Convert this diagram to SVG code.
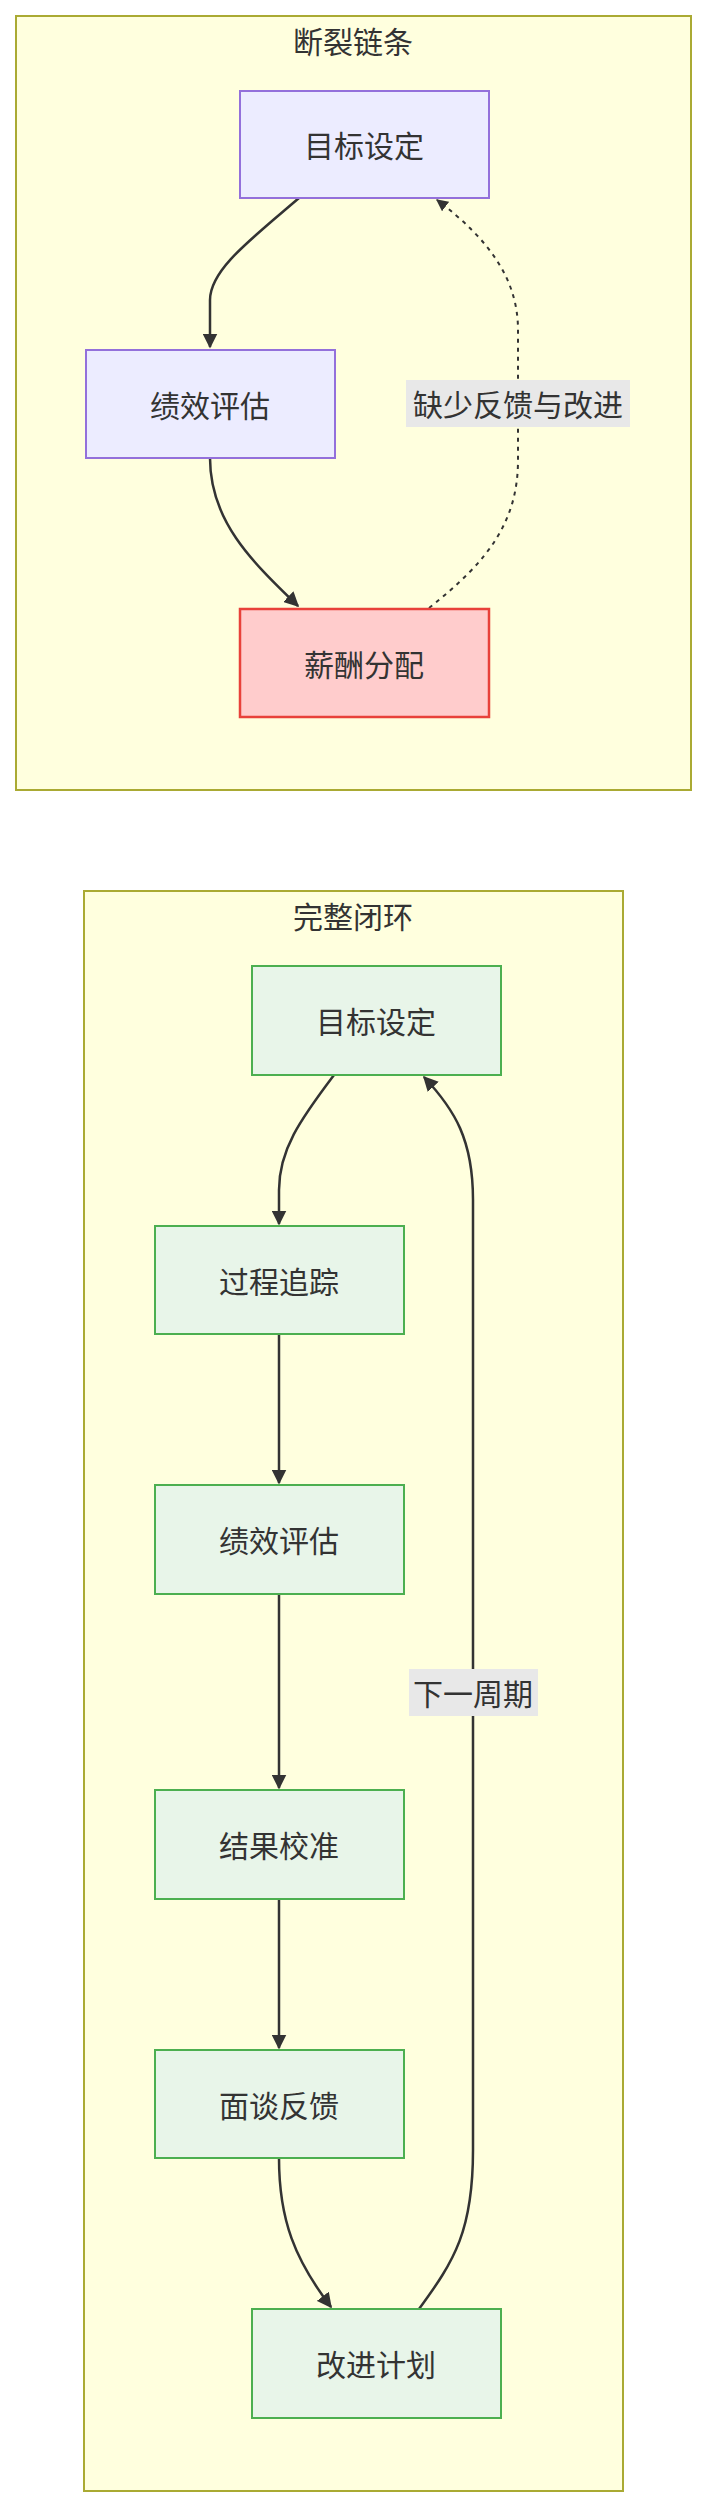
<svg xmlns="http://www.w3.org/2000/svg" width="705" height="2502" viewBox="0 0 705 2502">
<style>
text{font-family:"Noto Sans CJK SC","Liberation Sans",sans-serif;fill:#333;font-size:30px;text-anchor:middle;dominant-baseline:central}
.cl{fill:#ffffde;stroke:#aaaa33;stroke-width:2}
.p{fill:#ececff;stroke:#9370db;stroke-width:2}
.r{fill:#ffcccc;stroke:#e8413a;stroke-width:2.5}
.g{fill:#e8f5e9;stroke:#4caf50;stroke-width:2}
.e{fill:none;stroke:#333;stroke-width:2.5}
.d{stroke-dasharray:4 5;stroke-width:2}
.lb{fill:#e8e8e8}
</style>
<defs><marker id="a" viewBox="0 0 10 10" refX="9" refY="5" markerWidth="6" markerHeight="6" orient="auto"><path d="M0,0L10,5L0,10z" fill="#333"/></marker></defs>
<g id="cluster1"><rect class="cl" x="16" y="16" width="675" height="774"/><text x="353" y="40">断裂链条</text></g>
<g id="cluster2"><rect class="cl" x="84" y="891" width="539" height="1600"/><text x="353" y="915">完整闭环</text></g>
<g id="connectors">
<path class="e" d="M299,198C250,240 210,270 210,300L210,347" marker-end="url(#a)"/>
<path class="e" d="M210,458C210,520 250,560 298,606" marker-end="url(#a)"/>
<path class="e d" d="M429,608C490,560 518,520 518,460L518,330C518,280 490,240 437,200" marker-end="url(#a)"/>
<path class="e" d="M334,1075C300,1120 279,1150 279,1190L279,1224" marker-end="url(#a)"/>
<path class="e" d="M279,1334L279,1483" marker-end="url(#a)"/>
<path class="e" d="M279,1594L279,1788" marker-end="url(#a)"/>
<path class="e" d="M279,1899L279,2048" marker-end="url(#a)"/>
<path class="e" d="M279,2158C279,2220 295,2260 331,2307" marker-end="url(#a)"/>
<path class="e" d="M419,2309C455,2260 473,2230 473,2150L473,1200C473,1140 455,1110 424,1077" marker-end="url(#a)"/>
<rect class="lb" x="406" y="380" width="224" height="47"/><text x="518" y="403">缺少反馈与改进</text>
<rect class="lb" x="409" y="1669" width="129" height="47"/><text x="473" y="1692">下一周期</text>
</g>
<g id="n1"><rect class="p" x="240" y="91" width="249" height="107"/><text x="364" y="144">目标设定</text></g>
<g id="n2"><rect class="p" x="86" y="350" width="249" height="108"/><text x="210" y="404">绩效评估</text></g>
<g id="n3"><rect class="r" x="240" y="609" width="249" height="108"/><text x="364" y="663">薪酬分配</text></g>
<g id="m1"><rect class="g" x="252" y="966" width="249" height="109"/><text x="376" y="1020">目标设定</text></g>
<g id="m2"><rect class="g" x="155" y="1226" width="249" height="108"/><text x="279" y="1280">过程追踪</text></g>
<g id="m3"><rect class="g" x="155" y="1485" width="249" height="109"/><text x="279" y="1539">绩效评估</text></g>
<g id="m4"><rect class="g" x="155" y="1790" width="249" height="109"/><text x="279" y="1844">结果校准</text></g>
<g id="m5"><rect class="g" x="155" y="2050" width="249" height="108"/><text x="279" y="2104">面谈反馈</text></g>
<g id="m6"><rect class="g" x="252" y="2309" width="249" height="109"/><text x="376" y="2363">改进计划</text></g>
</svg>
